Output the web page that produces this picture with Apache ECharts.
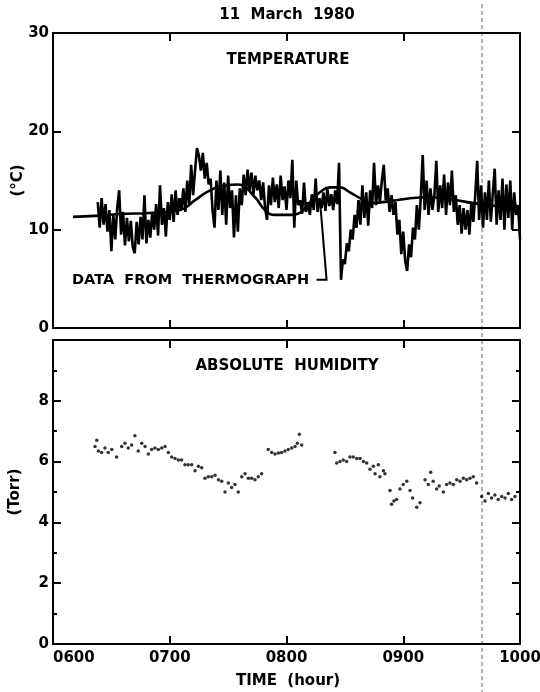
<!DOCTYPE html>
<html><head><meta charset="utf-8">
<script src="https://cdn.jsdelivr.net/npm/echarts@6/dist/echarts.min.js"></script>
<style>html,body{margin:0;padding:0;background:#fff}#c{width:540px;height:692px}</style>
</head><body><div id="c"></div>
<script>
// time is in minutes after midnight
const timeTicks = [360, 420, 480, 540, 600];
const timeTickLabels = ['0600', '0700', '0800', '0900', '1000'];

// fast temperature record, one reading per minute starting at 06:23
const tempStart = 383;
const tempValues = [
  12.8,10.2,13.2,10.5,12.6,9.8,12.0,7.8,11.5,9.0,
  12.2,14.0,9.5,11.8,8.4,11.2,8.8,10.9,8.2,7.6,
  10.8,8.5,11.3,9.0,13.5,8.6,11.0,9.2,11.8,10.0,
  12.6,9.4,14.5,10.5,12.2,9.3,12.8,11.0,13.6,10.8,
  14.0,11.5,13.2,12.0,14.2,11.8,15.0,12.5,16.6,13.5,
  16.0,18.3,17.5,16.0,17.8,15.2,16.8,14.6,15.2,12.0,
  10.2,15.0,12.0,16.0,11.5,14.8,10.5,15.5,12.2,14.0,
  9.2,13.5,9.8,14.2,12.5,15.6,13.5,16.1,14.0,15.8,
  13.6,15.5,14.0,15.0,13.0,14.8,12.2,11.0,14.5,12.5,
  15.3,12.8,14.6,12.2,15.5,13.0,14.4,12.0,15.0,13.2,
  17.1,10.2,15.0,12.5,13.0,11.6,14.8,11.8,12.8,11.5,
  13.6,12.0,15.2,11.8,13.2,12.2,13.8,11.9,14.2,12.4,
  13.6,12.0,14.0,12.6,16.8,4.9,7.0,6.5,8.6,7.8,
  10.0,9.0,11.5,10.2,13.0,10.5,14.5,11.2,13.8,10.4,
  14.0,12.2,16.8,12.5,14.5,12.8,15.0,16.6,13.0,14.2,
  11.8,13.5,11.5,12.8,9.5,11.0,7.5,9.8,6.8,5.8,
  8.5,7.2,10.2,9.0,12.5,10.0,13.2,17.6,12.0,15.0,
  11.5,14.2,12.0,13.5,17.0,11.8,14.5,12.2,15.6,11.5,
  14.8,12.5,16.0,11.8,13.5,10.5,12.5,9.6,12.2,10.0,
  12.0,9.5,12.8,10.8,13.5,17.0,11.0,14.5,10.2,13.8,
  11.0,15.0,10.8,13.6,16.2,10.5,14.0,11.0,15.2,10.0,
  14.6,11.2,15.0,10.0,13.8,11.5,12.5,9.0
];

// thermograph (smooth) record
const thermoTimes  = [370.3,381.6,394.4,409.8,425.3,433.0,440.7,448.4,455.1,463.8,468.9,474.1,482.8,486.9,492.1,497.2,502.4,507.5,512.6,517.8,522.9,533.2,543.5,553.7,564.0,579.4,600.0];
const thermoValues = [11.3,11.4,11.6,11.7,12.0,13.0,14.0,14.5,14.6,13.3,12.0,11.5,11.5,11.7,12.8,13.8,14.3,14.3,13.8,13.2,12.7,12.9,13.2,13.3,13.1,12.6,12.2];

// absolute humidity points
const humTimes = [
  381.6,382.5,383.3,385.0,386.7,388.4,390.2,392.7,395.3,397.0,398.7,400.4,402.1,403.8,405.6,407.3,409.0,410.7,412.4,414.1,415.9,417.6,419.3,421.0,422.7,424.4,426.1,427.8,429.5,431.3,433.0,434.7,436.4,438.1,439.8,441.6,443.3,445.0,446.7,448.4,450.1,451.8,453.5,455.2,457.0,458.7,460.4,462.1,463.8,465.5,467.2,
  470.6,472.4,474.1,475.8,477.5,479.2,480.9,482.7,484.4,485.6,486.6,487.8,
  504.9,505.8,507.5,509.2,510.9,512.6,514.3,516.1,517.8,519.5,521.2,522.9,524.6,525.5,527.2,528.0,529.8,530.6,
  533.2,534.0,535.2,536.6,538.3,540.0,541.8,543.5,544.8,546.9,548.6,
  551.2,552.9,554.1,555.4,557.2,558.5,560.6,562.3,564.0,565.7,567.5,569.2,570.9,572.6,574.3,576.0,577.7,
  580.3,582.0,583.7,585.4,587.1,588.8,590.6,592.3,594.0,595.7,597.4
];
const humValues = [
  6.5,6.7,6.35,6.3,6.45,6.3,6.4,6.15,6.5,6.6,6.45,6.55,6.85,6.35,6.6,6.5,6.25,6.4,6.45,6.4,6.45,6.5,6.3,6.15,6.1,6.05,6.05,5.9,5.9,5.9,5.7,5.85,5.8,5.45,5.5,5.5,5.55,5.4,5.35,5.0,5.3,5.15,5.25,5.0,5.5,5.6,5.45,5.45,5.4,5.5,5.6,
  6.4,6.3,6.25,6.28,6.3,6.35,6.4,6.45,6.5,6.6,6.9,6.55,
  6.3,5.95,6.0,6.05,6.0,6.15,6.15,6.1,6.1,6.0,5.95,5.75,5.85,5.6,5.9,5.5,5.7,5.6,
  5.05,4.6,4.7,4.75,5.1,5.25,5.35,5.05,4.8,4.5,4.65,
  5.4,5.25,5.65,5.35,5.1,5.2,5.0,5.25,5.3,5.25,5.4,5.35,5.45,5.4,5.45,5.5,5.3,
  4.85,4.7,4.95,4.8,4.9,4.75,4.85,4.8,4.95,4.75,4.85
];

const FONT = 'DejaVu Sans';
const tempData = tempValues.map((v, i) => [tempStart + i, v]);
const thermoData = thermoTimes.map((t, i) => [t, thermoValues[i]]);
const humData = humTimes.map((t, i) => [t, humValues[i]]);

const chart = echarts.init(document.getElementById('c'), null, {renderer: 'canvas'});

const lineBlack = {color: '#000', width: 2};
function xAx(grid, pos, labels) {
  return {
    gridIndex: grid, type: 'value', position: pos, min: 360, max: 600, interval: 60,
    axisLine: {show: true, onZero: false, lineStyle: lineBlack},
    axisTick: {show: true, inside: true, length: 8, lineStyle: lineBlack},
    axisLabel: {show: labels, margin: 7, color: '#000', fontFamily: FONT, fontWeight: 'bold', fontSize: 15,
      alignMinLabel: 'left',
      formatter: v => { const k = timeTicks.indexOf(v); return k >= 0 ? timeTickLabels[k] : ''; }},
    splitLine: {show: false}
  };
}
function yAx(grid, pos, max, interval, labels, extra) {
  return Object.assign({
    gridIndex: grid, type: 'value', position: pos, min: 0, max: max, interval: interval,
    axisLine: {show: true, onZero: false, lineStyle: lineBlack},
    axisTick: {show: true, inside: true, length: 8, lineStyle: lineBlack},
    axisLabel: {show: labels, margin: 4, color: '#000', fontFamily: FONT, fontWeight: 'bold', fontSize: 15},
    splitLine: {show: false}
  }, extra || {});
}
const nameStyle = {color: '#000', fontFamily: FONT, fontWeight: 'bold', fontSize: 15};

chart.setOption({
  backgroundColor: '#fff',
  animation: false,
  grid: [
    {left: 53, right: 20, top: 33, height: 295, containLabel: false, outerBoundsMode: 'none'},
    {left: 53, right: 20, top: 340, height: 304, containLabel: false, outerBoundsMode: 'none'}
  ],
  xAxis: [xAx(0, 'bottom', false), xAx(0, 'top', false), xAx(1, 'bottom', true), xAx(1, 'top', false)],
  yAxis: [
    yAx(0, 'left', 30, 10, true, {name: '(°C)', nameLocation: 'middle', nameGap: 27, nameRotate: 90,
      nameMoveOverlap: false, nameTextStyle: nameStyle}),
    yAx(0, 'right', 30, 10, false),
    yAx(1, 'left', 10, 2, true, {name: '(Torr)', nameLocation: 'middle', nameGap: 30, nameRotate: 90,
      nameMoveOverlap: false, nameTextStyle: nameStyle,
      minorTick: {show: true, splitNumber: 2, length: 4, lineStyle: lineBlack},
      axisLabel: {show: true, margin: 4, color: '#000', fontFamily: FONT, fontWeight: 'bold', fontSize: 15,
        formatter: v => (v <= 8 ? String(v) : '')}}),
    yAx(1, 'right', 10, 2, false, {minorTick: {show: true, splitNumber: 2, length: 4, lineStyle: lineBlack}})
  ],
  series: [
    {type: 'line', xAxisIndex: 0, yAxisIndex: 0, data: tempData, showSymbol: false,
     lineStyle: {color: '#000', width: 2.6}, z: 3},
    {type: 'line', xAxisIndex: 0, yAxisIndex: 0, data: thermoData, showSymbol: false, smooth: 0.5,
     lineStyle: {color: '#000', width: 2.6}, z: 4},
    {type: 'scatter', xAxisIndex: 2, yAxisIndex: 2, data: humData, symbol: 'circle', symbolSize: 3.5,
     itemStyle: {color: '#000'}}
  ]
});

// annotations positioned from data coordinates
const px = (g, t, v) => chart.convertToPixel({gridIndex: g}, [t, v]);
const textStart = px(0, 369.8, 4.9);
const arrowTip = px(0, 497.2, 13.0);
const textEndX = px(0, 497.5, 4.9)[0];
const artTop = px(0, 580.5, 30);
const f15 = 'bold 15px ' + FONT;
const graphics = [
  {type: 'text', x: 287, y: 15, style: {text: '11  March  1980', fill: '#000', font: f15, align: 'center', verticalAlign: 'middle'}},
  {type: 'text', x: 288, y: 60, style: {text: 'TEMPERATURE', fill: '#000', font: f15, align: 'center', verticalAlign: 'middle'}},
  {type: 'text', x: 287, y: 366, style: {text: 'ABSOLUTE  HUMIDITY', fill: '#000', font: f15, align: 'center', verticalAlign: 'middle'}},
  {type: 'text', x: 288, y: 681, style: {text: 'TIME  (hour)', fill: '#000', font: f15, align: 'center', verticalAlign: 'middle'}},
  {type: 'text', x: textStart[0], y: textStart[1], style: {text: 'DATA  FROM  THERMOGRAPH', fill: '#000', font: 'bold 14.5px ' + FONT, verticalAlign: 'middle'}},
  {type: 'polyline', shape: {points: [[textEndX - 4, textStart[1]], [textEndX + 6, textStart[1]], [arrowTip[0], arrowTip[1]]]},
   style: {stroke: '#000', lineWidth: 2, fill: null}},
  {type: 'line', shape: {x1: artTop[0], y1: 4, x2: artTop[0], y2: 692}, style: {stroke: '#666', lineWidth: 1, lineDash: [4, 3]}, z: -1}
];
chart.setOption({graphic: graphics});
</script>
</body></html>
